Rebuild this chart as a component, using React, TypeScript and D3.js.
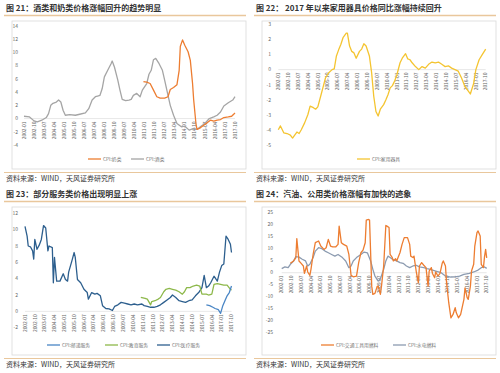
import React from 'react';
import * as d3 from 'd3';

// month offsets are counted from 2002-01
const tickLabels = [
  '2002-01', '2002-10', '2003-07', '2004-04', '2005-01', '2005-10', '2006-07', '2007-04',
  '2008-01', '2008-10', '2009-07', '2010-04', '2011-01', '2011-10', '2012-07', '2013-04',
  '2014-01', '2014-10', '2015-07', '2016-04', '2017-01', '2017-10'
];

const milkCpi = [
  [107, 5.6], [110, 5.5], [113, 5.3], [116, 4.3], [119, 3.3], [122, 3.1], [126, 3.1], [129, 3.3],
  [131, 4.4], [134, 4.7], [137, 5.1], [139, 7.3], [140, 10.9], [142, 11.9], [144, 11.1], [147, 10.1],
  [149, 8.8], [151, 5.3], [152, 2.8], [154, -0.75], [155, -1.65], [158, -1.4], [161, -1.0], [164, -0.65],
  [167, -0.25], [170, -0.4], [173, -0.25], [176, -0.15], [179, 0.15], [183, 0.25], [186, 0.35], [189, 0.85]
];

const liquorCpi = [
  [0, 0.35], [5, 0.25], [9, -0.35], [12, -0.5], [16, -0.25], [20, 0.15], [22, 0.75], [24, 2.0],
  [26, 2.3], [29, 2.5], [31, 2.8], [33, 2.5], [35, 1.25], [37, 0.5], [41, 0.6], [46, 0.5],
  [50, 0.65], [55, 0.85], [58, 1.5], [61, 2.8], [64, 3.3], [66, 3.4], [68, 3.5], [70, 4.5],
  [72, 6.3], [75, 7.3], [78, 8.3], [79, 8.7], [81, 7.8], [84, 5.8], [86, 4.3], [88, 2.9],
  [91, 2.7], [94, 2.8], [96, 2.9], [98, 3.5], [101, 3.8], [104, 3.3], [106, 4.3], [110, 5.3],
  [112, 6.7], [114, 7.3], [116, 8.9], [118, 9.1], [121, 8.3], [124, 7.3], [126, 5.8], [129, 3.5],
  [131, 2.0], [134, 0.5], [137, -0.75], [141, -1.25], [144, -1.15], [148, -1.75], [152, -1.5], [155, -1.65],
  [158, -1.25], [162, -0.75], [166, 0], [170, 0.25], [173, 0.5], [176, 1.0], [179, 1.9], [183, 2.4],
  [187, 2.8], [189, 3.3]
];

const applianceCpi = [
  [0, -3.95], [2, -3.7], [3, -3.85], [5, -4.15], [8, -4.2], [11, -4.3], [13, -4.5], [15, -4.3],
  [17, -4.1], [19, -4.2], [21, -3.95], [24, -3.5], [27, -2.95], [29, -2.4], [32, -2.5], [34, -2.6],
  [36, -2.45], [39, -1.65], [41, -1.1], [43, -0.55], [46, -0.2], [49, 0], [51, 0.05], [53, 0.9],
  [55, 1.3], [57, 1.65], [59, 2.1], [62, 2.4], [63, 2.4], [65, 1.55], [67, 1.2], [69, 1.1],
  [71, 0.75], [74, 1.2], [76, 1.35], [78, 1.7], [80, 1.55], [83, 0.9], [85, -0.2], [87, -1.75],
  [89, -2.75], [91, -3.05], [93, -2.6], [96, -2.3], [98, -2.0], [100, -1.65], [102, -1.2], [104, -1.05],
  [106, -0.75], [108, -0.35], [111, 0.45], [113, 0.75], [116, 1.05], [118, 0.7], [120, 0.65], [122, 0.45],
  [125, 0.2], [128, 0], [131, 0.2], [134, 0.1], [137, 0.35], [140, 0.5], [143, 0.45], [146, 0.5],
  [149, 0.35], [152, 0.2], [155, 0.25], [158, 0.1], [161, 0], [164, -0.1], [167, -0.55], [170, -1.1],
  [173, -1.4], [175, -1.6], [178, -0.9], [180, 0], [183, 0.65], [186, 1.0], [189, 1.35]
];

const postalCpi = [
  [166, 0.8], [169, 0.7], [172, 0.5], [174, 0.35], [177, 0.2], [179, -0.25], [181, 0.7], [183, 1.3],
  [185, 1.9], [187, 2.3], [189, 3.1]
];

const educationCpi = [
  [106, 1.7], [110, 1.6], [112, 1.5], [115, 0.8], [116, 1.2], [119, 1.3], [122, 1.5], [124, 1.7],
  [127, 2.4], [129, 2.7], [132, 2.8], [135, 2.7], [138, 2.6], [141, 2.4], [144, 2.1], [146, 2.4],
  [148, 2.9], [151, 2.9], [154, 3.1], [157, 3.2], [160, 3.1], [162, 2.1], [166, 2.1], [168, 2.0],
  [171, 2.1], [173, 3.3], [176, 3.4], [179, 3.3], [182, 3.2], [185, 3.2], [188, 2.7], [189, 2.6]
];

const medicalCpi = [
  [0, 10.4], [2, 9.2], [3, 8.0], [5, 7.9], [7, 7.4], [8, 6.4], [9, 8.8], [11, 7.6],
  [13, 8.1], [15, 8.8], [17, 10.5], [19, 10.2], [21, 7.4], [22, 8.0], [25, 7.8], [26, 3.5],
  [27, 6.6], [29, 3.7], [32, 3.7], [35, 4.6], [37, 3.9], [39, 3.7], [40, 4.8], [43, 6.2],
  [45, 7.2], [46, 6.6], [48, 3.9], [51, 3.5], [54, 2.7], [57, 2.3], [58, 1.5], [61, 2.3],
  [64, 2.1], [66, 2.2], [69, 1.9], [71, 0.7], [74, 0.35], [77, 0.3], [80, 0.1], [82, 0.6],
  [85, 0.8], [88, 1.1], [91, 1.0], [94, 0.9], [97, 0.8], [100, 0.9], [103, 0.8], [107, 0.9],
  [109, 0.7], [112, 0.6], [115, 0.5], [118, 0.5], [121, 0.6], [124, 0.8], [127, 1.1], [130, 1.4],
  [133, 1.7], [135, 2.0], [138, 1.7], [141, 1.3], [144, 1.2], [147, 1.1], [150, 1.3], [153, 1.4],
  [156, 1.9], [159, 2.3], [162, 2.9], [164, 4.4], [166, 2.9], [168, 3.1], [170, 3.5], [173, 4.3],
  [176, 3.7], [178, 4.8], [180, 5.6], [182, 5.8], [184, 9.2], [186, 8.8], [188, 8.2], [189, 7.2]
];

const fuelCpi = [
  [8, 3.9], [11, 4.9], [13, 6.2], [14, 14.2], [16, 4.9], [18, 3.9], [20, 2.8], [21, -0.3],
  [23, 2.8], [24, 0.3], [26, -1.1], [27, 1.4], [29, 7.6], [31, 12.5], [34, 13.2], [36, 11.1],
  [39, 9.7], [41, 10.4], [43, 13.9], [45, 11.1], [47, 10.8], [50, 10.8], [52, 11.8], [53, 19.4],
  [55, 12.5], [57, 11.8], [60, 11.1], [62, 7.6], [64, -1.1], [66, -1.7], [69, -1.4], [71, 4.2],
  [73, 8.3], [75, 9.4], [77, 12.5], [78, 21.9], [80, 22.2], [81, 21.9], [83, -5.6], [84, -9.0],
  [86, -8.6], [88, -5.8], [89, -5.6], [91, -9.0], [92, -5.6], [94, 2.8], [96, 19.7], [97, 19.4],
  [99, 18.8], [100, 7.6], [102, 6.3], [103, 4.9], [105, 5.8], [106, 4.9], [109, 8.3], [111, 11.8],
  [113, 14.6], [116, 14.6], [118, 11.8], [119, 6.9], [121, 6.3], [122, 6.9], [124, 0.7], [126, -4.2],
  [127, 2.8], [129, 4.2], [131, 3.1], [133, 2.1], [135, -5.6], [136, 0.7], [138, 2.1], [139, -0.3],
  [141, -2.1], [142, 0.3], [144, -1.4], [146, -0.3], [148, 3.9], [149, 4.9], [151, 2.8], [152, -4.2],
  [154, -12.5], [156, -18.8], [158, -17.4], [160, -14.6], [161, -16.7], [163, -18.8], [165, -17.4], [166, -15.3],
  [168, -11.1], [169, -6.3], [171, -10.4], [172, -11.1], [174, -5.6], [175, 0.7], [177, 3.5], [178, 11.1],
  [180, 16.7], [181, 17.4], [183, 15.3], [184, 3.5], [186, 2.1], [187, 6.7], [188, 9.7], [189, 6.2]
];

const utilityCpi = [
  [0, 1.7], [3, 2.4], [6, 2.1], [8, 3.5], [11, 4.9], [13, 6.7], [16, 6.5], [19, 5.6],
  [22, 4.9], [24, 2.8], [26, 3.5], [29, 6.3], [31, 9.0], [34, 10.4], [37, 10.0], [40, 9.0],
  [43, 8.3], [46, 7.6], [49, 6.9], [52, 7.6], [56, 6.3], [59, 4.9], [62, 2.1], [64, 2.8],
  [66, 4.9], [69, 6.3], [73, 7.6], [76, 8.6], [79, 8.3], [82, 4.9], [84, 1.4], [86, -1.4],
  [89, -3.5], [91, -2.5], [94, 1.4], [96, 4.9], [98, 6.9], [100, 6.3], [103, 5.3], [106, 4.9],
  [109, 4.2], [112, 3.9], [115, 2.8], [118, 2.1], [121, 2.8], [124, 3.1], [127, 2.4], [131, 2.1],
  [134, 1.7], [137, 1.4], [142, 0.7], [147, 0], [151, -1.4], [156, -1.8], [160, -1.7], [164, -1.4],
  [168, -0.7], [173, -0.3], [177, 0.3], [181, 1.1], [184, 2.1], [187, 2.4], [189, 1.8]
];

const START = new Date(2002, 0, 1);
const toDate = m => d3.timeMonth.offset(START, m);
const parseMonth = d3.timeParse('%Y-%m');

const FONT = '"Noto Sans CJK SC", "Noto Sans", sans-serif';
const RULE = '#E9C79C';

const panels = [
  {
    ox: 0, oy: 0,
    title: '图 21：酒类和奶类价格涨幅回升的趋势明显',
    y: [-4, 14, 2], yPx: [145, 26], xPx: [24, 235], yLabelX: 18,
    series: [
      { name: 'CPI:奶类', color: '#ED7D31', data: milkCpi, lx: 88 },
      { name: 'CPI:酒类', color: '#A5A5A5', data: liquorCpi, lx: 131 }
    ],
    order: [1, 0]
  },
  {
    ox: 250, oy: 0,
    title: '图 22：  2017 年以来家用器具价格同比涨幅持续回升',
    y: [-5, 3, 1], yPx: [145.7, 24], xPx: [28.3, 235.7], yLabelX: 21,
    series: [
      { name: 'CPI:家用器具', color: '#F4C430', data: applianceCpi, lx: 107 }
    ],
    order: [0]
  },
  {
    ox: 0, oy: 186,
    title: '图 23：部分服务类价格出现明显上涨',
    y: [-2, 12, 2], yPx: [141.7, 27.3], xPx: [25, 231.5], yLabelX: 18,
    series: [
      { name: 'CPI:邮递服务', color: '#4A86C5', data: postalCpi, lx: 47 },
      { name: 'CPI:教育服务', color: '#8DB84A', data: educationCpi, lx: 105 },
      { name: 'CPI:医疗服务', color: '#2D5F8E', data: medicalCpi, lx: 157 }
    ],
    order: [2, 1, 0]
  },
  {
    ox: 250, oy: 186,
    title: '图 24：汽油、公用类价格涨幅有加快的迹象',
    y: [-25, 25, 5], yPx: [146.7, 26.7], xPx: [31.7, 236.7], yLabelX: 23,
    series: [
      { name: 'CPI:交通工具用燃料', color: '#ED7D31', data: fuelCpi, lx: 71 },
      { name: 'CPI:水电燃料', color: '#8C9BB0', data: utilityCpi, lx: 143 }
    ],
    order: [1, 0]
  }
];

const Panel = ({ p }) => {
  const x = d3.scaleTime().domain([START, toDate(189)]).range(p.xPx);
  const y = d3.scaleLinear().domain([p.y[0], p.y[1]]).range(p.yPx);
  const yTicks = d3.range(p.y[0], p.y[1] + p.y[2] / 2, p.y[2]);
  const line = d3
    .line()
    .x(d => x(toDate(d[0])))
    .y(d => y(d[1]));
  const y0 = y(0);

  return (
    <g transform={`translate(${p.ox},${p.oy})`} fontFamily={FONT}>
      <text x={6} y={11} fontSize={8} fontWeight="bold" fill="#333">
        {p.title}
      </text>
      <line x1={4} x2={246} y1={15.5} y2={15.5} stroke={RULE} strokeWidth={1.5} />
      <rect x={12} y={21} width={234} height={148} fill="#fff" stroke="#D9D9D9" strokeWidth={0.8} />

      {yTicks.map(t => (
        <text key={t} x={p.yLabelX} y={y(t)} dy="0.35em" fontSize={5} fill="#666" textAnchor="end">
          {t}
        </text>
      ))}

      <line x1={p.xPx[0]} x2={p.xPx[1]} y1={y0} y2={y0} stroke="#D9D9D9" strokeWidth={0.6} />

      {tickLabels.map(l => {
        const tx = x(parseMonth(l));
        return (
          <text
            key={l}
            transform={`translate(${tx + 1.7},${y0 + 3}) rotate(-90)`}
            fontSize={4.8}
            fill="#666"
            textAnchor="end"
          >
            {l}
          </text>
        );
      })}

      {p.order.map(i => {
        const s = p.series[i];
        return (
          <path key={s.name} d={line(s.data)} fill="none" stroke={s.color} strokeWidth={1.3} strokeLinejoin="round" />
        );
      })}

      {p.series.map(s => (
        <g key={s.name}>
          <line x1={s.lx} x2={s.lx + 13} y1={159} y2={159} stroke={s.color} strokeWidth={1.3} />
          <text x={s.lx + 15} y={159} dy="0.35em" fontSize={4.8} fill="#777">
            {s.name}
          </text>
        </g>
      ))}

      <line x1={4} x2={246} y1={172.5} y2={172.5} stroke={RULE} strokeWidth={1.2} />
      <text x={6} y={181} fontSize={7} fill="#333">
        资料来源：WIND，天风证券研究所
      </text>
    </g>
  );
};

const App = () => (
  <svg width={500} height={373} style={{ position: 'absolute', left: 0, top: 0, background: '#fff' }}>
    {panels.map(p => (
      <Panel key={p.title} p={p} />
    ))}
  </svg>
);

export default App;
